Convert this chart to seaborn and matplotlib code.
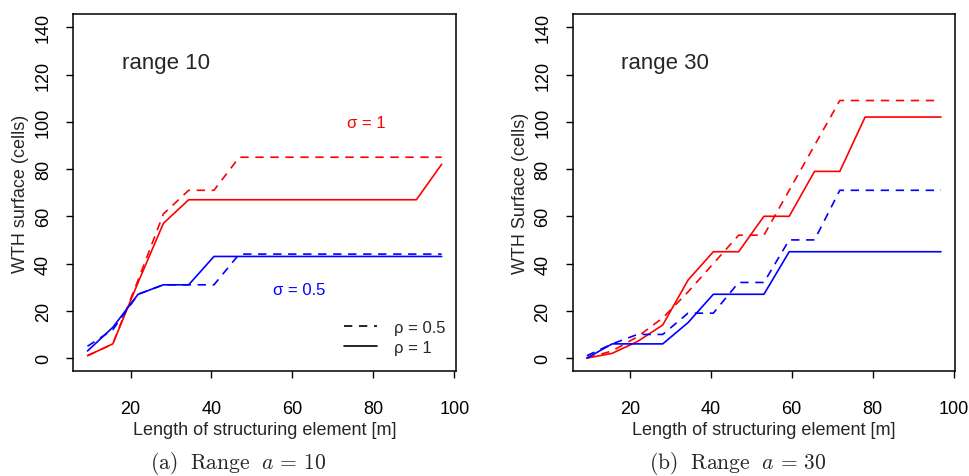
import matplotlib
matplotlib.use("Agg")
import matplotlib.pyplot as plt
from matplotlib.lines import Line2D
import pandas as pd
import seaborn as sns

# Length of structuring element [m]
length_m = [9.375, 15.625, 21.875, 28.125, 34.375, 40.625, 46.875, 53.125,
            59.375, 65.625, 71.875, 78.125, 84.375, 90.625, 96.875]

# range 10
r10_sig1_rho05 = [1, 6, 33, 61, 71, 71, 85, 85, 85, 85, 85, 85, 85, 85, 85]
r10_sig1_rho1 = [1, 6, 32, 57, 67, 67, 67, 67, 67, 67, 67, 67, 67, 67, 82]
r10_sig05_rho05 = [5, 12, 27, 31, 31, 31, 44, 44, 44, 44, 44, 44, 44, 44, 44]
r10_sig05_rho1 = [3, 13, 27, 31, 31, 43, 43, 43, 43, 43, 43, 43, 43, 43, 43]

# range 30
r30_sig1_rho05 = [0, 3, 9, 17, 28, 40, 52, 52, 71, 90, 109, 109, 109, 109, 109]
r30_sig1_rho1 = [0, 2, 7, 14, 33, 45, 45, 60, 60, 79, 79, 102, 102, 102, 102]
r30_sig05_rho05 = [1, 6, 10, 10, 19, 19, 32, 32, 50, 50, 71, 71, 71, 71, 71]
r30_sig05_rho1 = [0, 6, 6, 6, 15, 27, 27, 27, 45, 45, 45, 45, 45, 45, 45]

panels = [
    ("range 10", "WTH surface (cells)", r"$\mathrm{(a)\ \ Range}\ \ a\,=\,10$",
     {("1", "0.5"): r10_sig1_rho05, ("1", "1"): r10_sig1_rho1,
      ("0.5", "0.5"): r10_sig05_rho05, ("0.5", "1"): r10_sig05_rho1}),
    ("range 30", "WTH Surface (cells)", r"$\mathrm{(b)\ \ Range}\ \ a\,=\,30$",
     {("1", "0.5"): r30_sig1_rho05, ("1", "1"): r30_sig1_rho1,
      ("0.5", "0.5"): r30_sig05_rho05, ("0.5", "1"): r30_sig05_rho1}),
]

sns.set_style("ticks")
plt.rcParams["font.family"] = ["Liberation Sans", "DejaVu Sans"]
plt.rcParams["mathtext.fontset"] = "cm"
plt.rcParams["xtick.major.size"] = 5
plt.rcParams["ytick.major.size"] = 5
plt.rcParams["xtick.color"] = "black"
plt.rcParams["ytick.color"] = "black"
plt.rcParams["axes.edgecolor"] = "black"

fig = plt.figure(figsize=(9.7, 4.77), dpi=100)
lefts = [0.0756, 0.5904]
caption_x = [0.2454, 0.761]

for i, (title, ylab, caption, series) in enumerate(panels):
    ax = fig.add_axes([lefts[i], 0.2195, 0.3943, 0.749])
    rows = []
    for (sig, rho), vals in series.items():
        for x, y in zip(length_m, vals):
            rows.append({"length": x, "cells": y, "sigma": sig, "rho": rho})
    df = pd.DataFrame(rows)
    sns.lineplot(data=df, x="length", y="cells", hue="sigma", style="rho",
                 palette={"1": "#FF0000", "0.5": "#0000FF"},
                 dashes={"0.5": (5, 4), "1": ""}, linewidth=1.2,
                 legend=False, ax=ax)
    ax.set_xlim(5.875, 100.375)
    ax.set_ylim(-5.6, 145.6)
    ax.set_xticks([20, 40, 60, 80, 100])
    ax.set_yticks([0, 20, 40, 60, 80, 100, 120, 140])
    ax.tick_params(axis="both", labelsize=13, width=1)
    ax.tick_params(axis="x", pad=16)
    ax.tick_params(axis="y", pad=10.5, labelrotation=90)
    for tl in ax.get_yticklabels():
        tl.set_va("center")
    for sp in ax.spines.values():
        sp.set_linewidth(1.1)
    ax.set_xlabel("Length of structuring element [m]", fontsize=13, labelpad=2.5)
    ax.set_ylabel(ylab, fontsize=13, labelpad=4)
    ax.text(17.9, 125, title, fontsize=16, va="center", ha="left")
    fig.text(caption_x[i], 1 - 463.5 / 477, caption,
             fontsize=15.5, ha="center", va="center")

    if i == 0:
        ax.text(73.4, 99.5, "σ = 1", color="#FF0000", fontsize=12, va="center")
        ax.text(55.1, 29.2, "σ = 0.5", color="#0000FF", fontsize=12, va="center")
        handles = [Line2D([], [], color="black", lw=1.2, dashes=(5, 4)),
                   Line2D([], [], color="black", lw=1.2)]
        ax.legend(handles, ["ρ = 0.5", "ρ = 1"], loc="center left",
                  bbox_to_anchor=(0.707, 0.095), frameon=False, fontsize=12,
                  handlelength=2.0, handletextpad=1.0, labelspacing=0.3,
                  borderpad=0, borderaxespad=0)

fig.savefig("out.png", dpi=100)
